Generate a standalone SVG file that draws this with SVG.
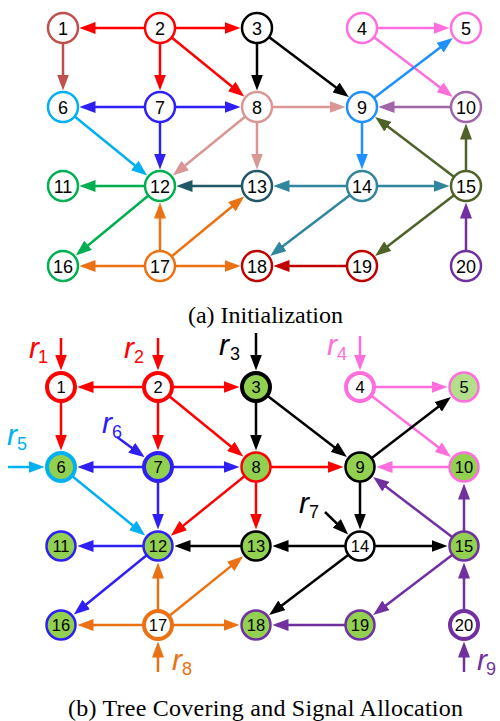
<svg xmlns="http://www.w3.org/2000/svg" width="500" height="721" viewBox="0 0 500 721">
<style>
.e{stroke-width:2.5;fill:none}
.n{fill:#fff;stroke-width:2.5}
.g{fill:#92D050}
.lg{fill:#B3DF8A}
.tk{stroke-width:4}
.lb{font-family:"Liberation Sans",Arial,sans-serif;font-size:18px;text-anchor:middle;fill:#000}
.lb2{font-family:"Liberation Sans",Arial,sans-serif;font-size:16.5px;text-anchor:middle;fill:#000}
.rr{font-family:"Liberation Sans",Arial,sans-serif;font-style:italic;font-size:30px}
.rs{font-family:"Liberation Sans",Arial,sans-serif;font-size:18px}
.cap{font-family:"Liberation Serif","Times New Roman",serif;font-size:24px;fill:#000}
.c1{stroke:#C0504D}.red{stroke:#FF0000}.blk{stroke:#000}.pink{stroke:#FF6EDD}.cyan{stroke:#00B0F0}.blue{stroke:#2E20F5}.rosy{stroke:#D99694}.dodger{stroke:#1E90FF}.pur10{stroke:#A066A8}.green{stroke:#00B050}.dteal{stroke:#215868}.teal{stroke:#31859C}.olive{stroke:#4F6228}.orange{stroke:#EC7112}.dred{stroke:#C00000}.purple{stroke:#7030A0}
</style>
<defs>
<marker id="m-c1" markerUnits="userSpaceOnUse" markerWidth="16" markerHeight="12" refX="10" refY="6" orient="auto"><path d="M0,0L16,6L0,12z" fill="#C0504D"/></marker>
<marker id="m-red" markerUnits="userSpaceOnUse" markerWidth="16" markerHeight="12" refX="10" refY="6" orient="auto"><path d="M0,0L16,6L0,12z" fill="#FF0000"/></marker>
<marker id="m-blk" markerUnits="userSpaceOnUse" markerWidth="16" markerHeight="12" refX="10" refY="6" orient="auto"><path d="M0,0L16,6L0,12z" fill="#000"/></marker>
<marker id="m-pink" markerUnits="userSpaceOnUse" markerWidth="16" markerHeight="12" refX="10" refY="6" orient="auto"><path d="M0,0L16,6L0,12z" fill="#FF6EDD"/></marker>
<marker id="m-cyan" markerUnits="userSpaceOnUse" markerWidth="16" markerHeight="12" refX="10" refY="6" orient="auto"><path d="M0,0L16,6L0,12z" fill="#00B0F0"/></marker>
<marker id="m-blue" markerUnits="userSpaceOnUse" markerWidth="16" markerHeight="12" refX="10" refY="6" orient="auto"><path d="M0,0L16,6L0,12z" fill="#2E20F5"/></marker>
<marker id="m-rosy" markerUnits="userSpaceOnUse" markerWidth="16" markerHeight="12" refX="10" refY="6" orient="auto"><path d="M0,0L16,6L0,12z" fill="#D99694"/></marker>
<marker id="m-dodger" markerUnits="userSpaceOnUse" markerWidth="16" markerHeight="12" refX="10" refY="6" orient="auto"><path d="M0,0L16,6L0,12z" fill="#1E90FF"/></marker>
<marker id="m-pur10" markerUnits="userSpaceOnUse" markerWidth="16" markerHeight="12" refX="10" refY="6" orient="auto"><path d="M0,0L16,6L0,12z" fill="#A066A8"/></marker>
<marker id="m-green" markerUnits="userSpaceOnUse" markerWidth="16" markerHeight="12" refX="10" refY="6" orient="auto"><path d="M0,0L16,6L0,12z" fill="#00B050"/></marker>
<marker id="m-dteal" markerUnits="userSpaceOnUse" markerWidth="16" markerHeight="12" refX="10" refY="6" orient="auto"><path d="M0,0L16,6L0,12z" fill="#215868"/></marker>
<marker id="m-teal" markerUnits="userSpaceOnUse" markerWidth="16" markerHeight="12" refX="10" refY="6" orient="auto"><path d="M0,0L16,6L0,12z" fill="#31859C"/></marker>
<marker id="m-olive" markerUnits="userSpaceOnUse" markerWidth="16" markerHeight="12" refX="10" refY="6" orient="auto"><path d="M0,0L16,6L0,12z" fill="#4F6228"/></marker>
<marker id="m-orange" markerUnits="userSpaceOnUse" markerWidth="16" markerHeight="12" refX="10" refY="6" orient="auto"><path d="M0,0L16,6L0,12z" fill="#EC7112"/></marker>
<marker id="m-dred" markerUnits="userSpaceOnUse" markerWidth="16" markerHeight="12" refX="10" refY="6" orient="auto"><path d="M0,0L16,6L0,12z" fill="#C00000"/></marker>
<marker id="m-purple" markerUnits="userSpaceOnUse" markerWidth="16" markerHeight="12" refX="10" refY="6" orient="auto"><path d="M0,0L16,6L0,12z" fill="#7030A0"/></marker>
</defs>

<g id="connectors-a">
<line class="e red" x1="160" y1="28" x2="85.5" y2="28" marker-end="url(#m-red)"/>
<line class="e red" x1="160" y1="28" x2="234.5" y2="28" marker-end="url(#m-red)"/>
<line class="e red" x1="160" y1="28" x2="160" y2="84.5" marker-end="url(#m-red)"/>
<line class="e red" x1="160" y1="28" x2="239.55" y2="92.79" marker-end="url(#m-red)"/>
<line class="e c1" x1="63" y1="28" x2="63" y2="84.5" marker-end="url(#m-c1)"/>
<line class="e blk" x1="257" y1="28" x2="257" y2="84.5" marker-end="url(#m-blk)"/>
<line class="e blk" x1="257" y1="28" x2="344.02" y2="93.47" marker-end="url(#m-blk)"/>
<line class="e pink" x1="362" y1="28" x2="443.5" y2="28" marker-end="url(#m-pink)"/>
<line class="e pink" x1="362" y1="28" x2="448.08" y2="93.39" marker-end="url(#m-pink)"/>
<line class="e blue" x1="160" y1="107" x2="85.5" y2="107" marker-end="url(#m-blue)"/>
<line class="e blue" x1="160" y1="107" x2="234.5" y2="107" marker-end="url(#m-blue)"/>
<line class="e blue" x1="160" y1="107" x2="160" y2="163.5" marker-end="url(#m-blue)"/>
<line class="e cyan" x1="63" y1="107" x2="142.55" y2="171.79" marker-end="url(#m-cyan)"/>
<line class="e rosy" x1="257" y1="107" x2="339.5" y2="107" marker-end="url(#m-rosy)"/>
<line class="e rosy" x1="257" y1="107" x2="177.45" y2="171.79" marker-end="url(#m-rosy)"/>
<line class="e rosy" x1="257" y1="107" x2="257" y2="163.5" marker-end="url(#m-rosy)"/>
<line class="e dodger" x1="362" y1="107" x2="448.08" y2="41.61" marker-end="url(#m-dodger)"/>
<line class="e dodger" x1="362" y1="107" x2="362" y2="163.5" marker-end="url(#m-dodger)"/>
<line class="e pur10" x1="466" y1="107" x2="384.5" y2="107" marker-end="url(#m-pur10)"/>
<line class="e olive" x1="466" y1="186" x2="379.92" y2="120.61" marker-end="url(#m-olive)"/>
<line class="e olive" x1="466" y1="186" x2="466" y2="129.5" marker-end="url(#m-olive)"/>
<line class="e olive" x1="466" y1="186" x2="379.83" y2="252.28" marker-end="url(#m-olive)"/>
<line class="e green" x1="160" y1="186" x2="85.5" y2="186" marker-end="url(#m-green)"/>
<line class="e green" x1="160" y1="186" x2="80.36" y2="251.68" marker-end="url(#m-green)"/>
<line class="e dteal" x1="257" y1="186" x2="182.5" y2="186" marker-end="url(#m-dteal)"/>
<line class="e teal" x1="362" y1="186" x2="279.5" y2="186" marker-end="url(#m-teal)"/>
<line class="e teal" x1="362" y1="186" x2="443.5" y2="186" marker-end="url(#m-teal)"/>
<line class="e teal" x1="362" y1="186" x2="274.9" y2="252.36" marker-end="url(#m-teal)"/>
<line class="e orange" x1="160" y1="266" x2="85.5" y2="266" marker-end="url(#m-orange)"/>
<line class="e orange" x1="160" y1="266" x2="160" y2="208.5" marker-end="url(#m-orange)"/>
<line class="e orange" x1="160" y1="266" x2="239.64" y2="200.32" marker-end="url(#m-orange)"/>
<line class="e orange" x1="160" y1="266" x2="234.5" y2="266" marker-end="url(#m-orange)"/>
<line class="e dred" x1="362" y1="266" x2="279.5" y2="266" marker-end="url(#m-dred)"/>
<line class="e purple" x1="466" y1="266" x2="466" y2="208.5" marker-end="url(#m-purple)"/>
</g>

<g id="a-n1"><circle class="n c1" cx="63" cy="28" r="15"/><text class="lb" x="63" y="34.5">1</text></g>
<g id="a-n2"><circle class="n red" cx="160" cy="28" r="15"/><text class="lb" x="160" y="34.5">2</text></g>
<g id="a-n3"><circle class="n blk" cx="257" cy="28" r="15"/><text class="lb" x="257" y="34.5">3</text></g>
<g id="a-n4"><circle class="n pink" cx="362" cy="28" r="15"/><text class="lb" x="362" y="34.5">4</text></g>
<g id="a-n5"><circle class="n pink" cx="466" cy="28" r="15"/><text class="lb" x="466" y="34.5">5</text></g>
<g id="a-n6"><circle class="n cyan" cx="63" cy="107" r="15"/><text class="lb" x="63" y="113.5">6</text></g>
<g id="a-n7"><circle class="n blue" cx="160" cy="107" r="15"/><text class="lb" x="160" y="113.5">7</text></g>
<g id="a-n8"><circle class="n rosy" cx="257" cy="107" r="15"/><text class="lb" x="257" y="113.5">8</text></g>
<g id="a-n9"><circle class="n dodger" cx="362" cy="107" r="15"/><text class="lb" x="362" y="113.5">9</text></g>
<g id="a-n10"><circle class="n pur10" cx="466" cy="107" r="15"/><text class="lb" x="466" y="113.5">10</text></g>
<g id="a-n11"><circle class="n green" cx="63" cy="186" r="15"/><text class="lb" x="63" y="192.5">11</text></g>
<g id="a-n12"><circle class="n green" cx="160" cy="186" r="15"/><text class="lb" x="160" y="192.5">12</text></g>
<g id="a-n13"><circle class="n dteal" cx="257" cy="186" r="15"/><text class="lb" x="257" y="192.5">13</text></g>
<g id="a-n14"><circle class="n teal" cx="362" cy="186" r="15"/><text class="lb" x="362" y="192.5">14</text></g>
<g id="a-n15"><circle class="n olive" cx="466" cy="186" r="15"/><text class="lb" x="466" y="192.5">15</text></g>
<g id="a-n16"><circle class="n green" cx="63" cy="266" r="15"/><text class="lb" x="63" y="272.5">16</text></g>
<g id="a-n17"><circle class="n orange" cx="160" cy="266" r="15"/><text class="lb" x="160" y="272.5">17</text></g>
<g id="a-n18"><circle class="n dred" cx="257" cy="266" r="15"/><text class="lb" x="257" y="272.5">18</text></g>
<g id="a-n19"><circle class="n dred" cx="362" cy="266" r="15"/><text class="lb" x="362" y="272.5">19</text></g>
<g id="a-n20"><circle class="n purple" cx="466" cy="266" r="15"/><text class="lb" x="466" y="272.5">20</text></g>

<text class="cap" x="188" y="323" textLength="155" lengthAdjust="spacing">(a) Initialization</text>

<g id="connectors-b">
<line class="e red" x1="61" y1="338" x2="61" y2="364.5" marker-end="url(#m-red)"/>
<line class="e red" x1="158" y1="338" x2="158" y2="364.5" marker-end="url(#m-red)"/>
<line class="e blk" x1="256" y1="333" x2="256" y2="364.5" marker-end="url(#m-blk)"/>
<line class="e pink" x1="360" y1="336" x2="360" y2="364.5" marker-end="url(#m-pink)"/>
<line class="e cyan" x1="8" y1="467" x2="38.5" y2="467" marker-end="url(#m-cyan)"/>
<line class="e blue" x1="117" y1="437" x2="139.84" y2="453.71" marker-end="url(#m-blue)"/>
<line class="e blk" x1="325" y1="512" x2="343.87" y2="530.32" marker-end="url(#m-blk)"/>
<line class="e orange" x1="158" y1="672" x2="158" y2="647.5" marker-end="url(#m-orange)"/>
<line class="e purple" x1="464" y1="672" x2="464" y2="647.5" marker-end="url(#m-purple)"/>

<line class="e red" x1="158" y1="387" x2="83.5" y2="387" marker-end="url(#m-red)"/>
<line class="e red" x1="158" y1="387" x2="233.5" y2="387" marker-end="url(#m-red)"/>
<line class="e red" x1="158" y1="387" x2="158" y2="444.5" marker-end="url(#m-red)"/>
<line class="e red" x1="158" y1="387" x2="238.57" y2="452.77" marker-end="url(#m-red)"/>
<line class="e red" x1="61" y1="387" x2="61" y2="444.5" marker-end="url(#m-red)"/>
<line class="e blk" x1="256" y1="387" x2="256" y2="444.5" marker-end="url(#m-blk)"/>
<line class="e blk" x1="256" y1="387" x2="342.17" y2="453.28" marker-end="url(#m-blk)"/>
<line class="e pink" x1="360" y1="387" x2="441.5" y2="387" marker-end="url(#m-pink)"/>
<line class="e pink" x1="360" y1="387" x2="446.17" y2="453.28" marker-end="url(#m-pink)"/>
<line class="e blue" x1="158" y1="467" x2="83.5" y2="467" marker-end="url(#m-blue)"/>
<line class="e blue" x1="158" y1="467" x2="233.5" y2="467" marker-end="url(#m-blue)"/>
<line class="e blue" x1="158" y1="467" x2="158" y2="523.5" marker-end="url(#m-blue)"/>
<line class="e cyan" x1="61" y1="467" x2="140.55" y2="531.79" marker-end="url(#m-cyan)"/>
<line class="e red" x1="256" y1="467" x2="337.5" y2="467" marker-end="url(#m-red)"/>
<line class="e red" x1="256" y1="467" x2="175.51" y2="531.88" marker-end="url(#m-red)"/>
<line class="e red" x1="256" y1="467" x2="256" y2="523.5" marker-end="url(#m-red)"/>
<line class="e blk" x1="360" y1="467" x2="446.17" y2="400.72" marker-end="url(#m-blk)"/>
<line class="e blk" x1="360" y1="467" x2="360" y2="523.5" marker-end="url(#m-blk)"/>
<line class="e pink" x1="464" y1="467" x2="382.5" y2="467" marker-end="url(#m-pink)"/>
<line class="e purple" x1="464" y1="546" x2="377.92" y2="480.61" marker-end="url(#m-purple)"/>
<line class="e purple" x1="464" y1="546" x2="464" y2="489.5" marker-end="url(#m-purple)"/>
<line class="e purple" x1="464" y1="546" x2="377.92" y2="611.39" marker-end="url(#m-purple)"/>
<line class="e blue" x1="158" y1="546" x2="83.5" y2="546" marker-end="url(#m-blue)"/>
<line class="e blue" x1="158" y1="546" x2="78.45" y2="610.79" marker-end="url(#m-blue)"/>
<line class="e blk" x1="256" y1="546" x2="180.5" y2="546" marker-end="url(#m-blk)"/>
<line class="e blk" x1="360" y1="546" x2="278.5" y2="546" marker-end="url(#m-blk)"/>
<line class="e blk" x1="360" y1="546" x2="441.5" y2="546" marker-end="url(#m-blk)"/>
<line class="e blk" x1="360" y1="546" x2="273.92" y2="611.39" marker-end="url(#m-blk)"/>
<line class="e orange" x1="158" y1="625" x2="83.5" y2="625" marker-end="url(#m-orange)"/>
<line class="e orange" x1="158" y1="625" x2="158" y2="568.5" marker-end="url(#m-orange)"/>
<line class="e orange" x1="158" y1="625" x2="238.49" y2="560.12" marker-end="url(#m-orange)"/>
<line class="e orange" x1="158" y1="625" x2="233.5" y2="625" marker-end="url(#m-orange)"/>
<line class="e purple" x1="360" y1="625" x2="278.5" y2="625" marker-end="url(#m-purple)"/>
<line class="e purple" x1="464" y1="625" x2="464" y2="568.5" marker-end="url(#m-purple)"/>
</g>

<g id="b-n1"><circle class="n red tk" cx="61" cy="387" r="14"/><text class="lb2" x="61" y="393">1</text></g>
<g id="b-n2"><circle class="n red tk" cx="158" cy="387" r="14"/><text class="lb2" x="158" y="393">2</text></g>
<g id="b-n3"><circle class="n g blk tk" cx="256" cy="387" r="14"/><text class="lb2" x="256" y="393">3</text></g>
<g id="b-n4"><circle class="n pink tk" cx="360" cy="387" r="14"/><text class="lb2" x="360" y="393">4</text></g>
<g id="b-n5"><circle class="n lg pink" cx="464" cy="387" r="14.5"/><text class="lb2" x="464" y="393">5</text></g>
<g id="b-n6"><circle class="n g cyan tk" cx="61" cy="467" r="14"/><text class="lb2" x="61" y="473">6</text></g>
<g id="b-n7"><circle class="n g blue tk" cx="158" cy="467" r="14"/><text class="lb2" x="158" y="473">7</text></g>
<g id="b-n8"><circle class="n g red" cx="256" cy="467" r="14.5"/><text class="lb2" x="256" y="473">8</text></g>
<g id="b-n9"><circle class="n g blk" cx="360" cy="467" r="14.5"/><text class="lb2" x="360" y="473">9</text></g>
<g id="b-n10"><circle class="n g pink" cx="464" cy="467" r="14.5"/><text class="lb2" x="464" y="473">10</text></g>
<g id="b-n11"><circle class="n g blue" cx="61" cy="546" r="14.5"/><text class="lb2" x="61" y="552">11</text></g>
<g id="b-n12"><circle class="n g blue" cx="158" cy="546" r="14.5"/><text class="lb2" x="158" y="552">12</text></g>
<g id="b-n13"><circle class="n g blk" cx="256" cy="546" r="14.5"/><text class="lb2" x="256" y="552">13</text></g>
<g id="b-n14"><circle class="n blk" cx="360" cy="546" r="14.5"/><text class="lb2" x="360" y="552">14</text></g>
<g id="b-n15"><circle class="n g purple" cx="464" cy="546" r="14.5"/><text class="lb2" x="464" y="552">15</text></g>
<g id="b-n16"><circle class="n g blue" cx="61" cy="625" r="14.5"/><text class="lb2" x="61" y="631">16</text></g>
<g id="b-n17"><circle class="n orange tk" cx="158" cy="625" r="14"/><text class="lb2" x="158" y="631">17</text></g>
<g id="b-n18"><circle class="n g purple" cx="256" cy="625" r="14.5"/><text class="lb2" x="256" y="631">18</text></g>
<g id="b-n19"><circle class="n g purple" cx="360" cy="625" r="14.5"/><text class="lb2" x="360" y="631">19</text></g>
<g id="b-n20"><circle class="n purple tk" cx="464" cy="625" r="14"/><text class="lb2" x="464" y="631">20</text></g>

<g id="labels-r">
<text class="rr" x="29" y="358" fill="#FF0000">r</text><text class="rs" x="38" y="363" fill="#FF0000">1</text>
<text class="rr" x="124" y="358" fill="#FF0000">r</text><text class="rs" x="134" y="363" fill="#FF0000">2</text>
<text class="rr" x="219" y="355" fill="#000">r</text><text class="rs" x="230" y="360" fill="#000">3</text>
<text class="rr" x="327" y="355" fill="#FF6EDD">r</text><text class="rs" x="337" y="360" fill="#FF6EDD">4</text>
<text class="rr" x="7" y="445" fill="#00B0F0">r</text><text class="rs" x="17" y="450" fill="#00B0F0">5</text>
<text class="rr" x="102" y="433" fill="#2E20F5">r</text><text class="rs" x="112" y="438" fill="#2E20F5">6</text>
<text class="rr" x="299" y="513" fill="#000">r</text><text class="rs" x="309" y="518" fill="#000">7</text>
<text class="rr" x="172" y="670" fill="#EC7112">r</text><text class="rs" x="182" y="675" fill="#EC7112">8</text>
<text class="rr" x="477" y="670" fill="#7030A0">r</text><text class="rs" x="486" y="675" fill="#7030A0">9</text>
</g>

<text class="cap" x="68" y="716" textLength="395" lengthAdjust="spacing">(b) Tree Covering and Signal Allocation</text>
</svg>
